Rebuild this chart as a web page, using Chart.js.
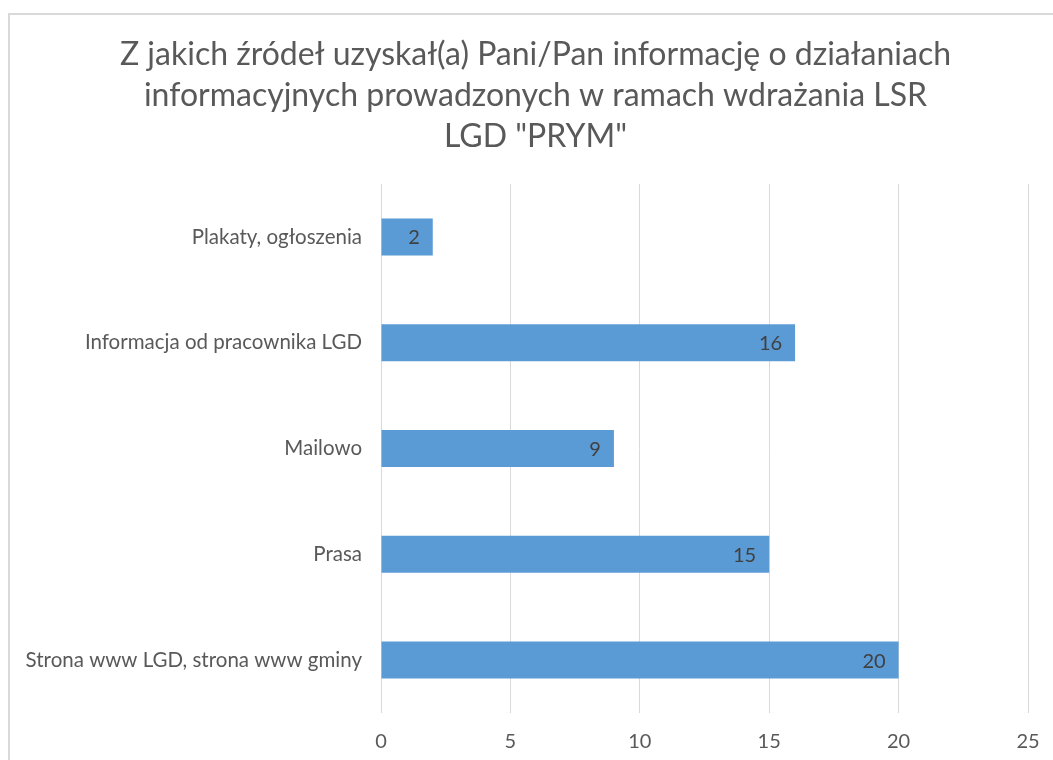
<!DOCTYPE html>
<html>
<head>
<meta charset="utf-8">
<script src="https://cdn.jsdelivr.net/npm/chart.js@4/dist/chart.umd.min.js"></script>
<style>
html,body{margin:0;padding:0;background:#fff;}
#wrap{position:relative;width:1053px;height:760px;}
</style>
</head>
<body>
<div id="wrap"><canvas id="c" width="1053" height="760"></canvas></div>
<script>
const titleLines = ['Z jakich źródeł uzyskał(a) Pani/Pan informację o działaniach', 'informacyjnych prowadzonych w ramach wdrażania LSR', 'LGD "PRYM"'];
const categories = ['Plakaty, ogłoszenia', 'Informacja od pracownika LGD', 'Mailowo', 'Prasa', 'Strona www LGD, strona www gminy'];
const values = [2, 16, 9, 15, 20];
const xTicks = [0, 5, 10, 15, 20, 25];

const FONT = 'Lato, "Open Sans", sans-serif';

const frame = {
  id: 'frame',
  beforeDraw(chart) {
    const ctx = chart.ctx;
    ctx.save();
    ctx.fillStyle = '#fff';
    ctx.fillRect(0, 0, chart.width, chart.height);
    ctx.strokeStyle = '#D9D9D9';
    ctx.lineWidth = 2;
    ctx.strokeRect(9, 14, 1100, 800);
    // title
    ctx.fillStyle = '#595959';
    ctx.font = '32px ' + FONT;
    ctx.textAlign = 'center';
    ctx.textBaseline = 'middle';
    titleLines.forEach((t, i) => ctx.fillText(t, 535.5, 55 + i * 41));
    ctx.restore();
  }
};

const labels = {
  id: 'labels',
  afterDatasetsDraw(chart) {
    const ctx = chart.ctx;
    const meta = chart.getDatasetMeta(0);
    ctx.save();
    ctx.font = '20px ' + FONT;
    ctx.fillStyle = '#404040';
    ctx.textAlign = 'right';
    ctx.textBaseline = 'middle';
    meta.data.forEach((bar, i) => {
      ctx.fillText(String(values[i]), bar.x - 13, bar.y + 1);
    });
    ctx.restore();
  }
};

new Chart(document.getElementById('c'), {
  type: 'bar',
  data: {
    labels: categories,
    datasets: [{
      data: values,
      backgroundColor: '#5B9BD5',
      borderWidth: 0,
      barPercentage: 0.35,
      categoryPercentage: 1.0
    }]
  },
  options: {
    indexAxis: 'y',
    responsive: false,
    animation: false,
    devicePixelRatio: 1,
    layout: { padding: { left: 12, right: 25, top: 184, bottom: 0 } },
    plugins: {
      legend: { display: false },
      tooltip: { enabled: false },
      title: { display: false }
    },
    scales: {
      x: {
        min: 0, max: 25,
        afterBuildTicks(scale) { scale.ticks = xTicks.map(v => ({ value: v })); },
        afterFit(scale) { scale.height = 47; scale.paddingLeft = 0; scale.paddingRight = 0; },
        ticks: { color: '#595959', font: { family: FONT, size: 20 }, padding: 17 },
        grid: { color: '#D9D9D9', lineWidth: 1, drawTicks: false },
        border: { display: false }
      },
      y: {
        afterFit(scale) { scale.width = 381 - 12; },
        ticks: { color: '#595959', font: { family: FONT, size: 20.5 }, padding: 19 },
        grid: { display: false, drawTicks: false },
        border: { display: false }
      }
    }
  },
  plugins: [frame, labels]
});
</script>
</body>
</html>
